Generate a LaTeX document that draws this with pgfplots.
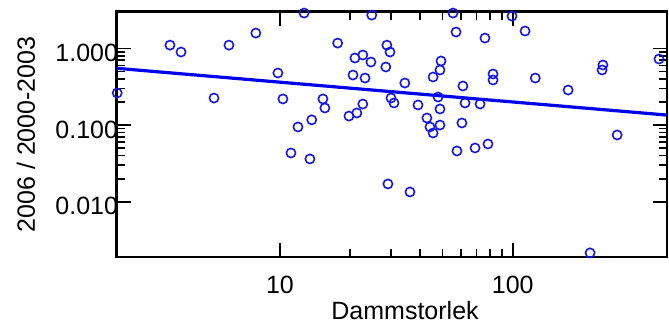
\documentclass[border=0pt]{standalone}
\usepackage{fontspec}
\setmainfont{Liberation Sans}
\usepackage{pgfplots}
\pgfplotsset{compat=1.18}
\begin{document}
\begin{tikzpicture}
\path[use as bounding box] (-116.7bp,-72bp) rectangle (552.3bp,257bp);
\begin{axis}[
  at={(0,0)}, anchor=south west,
  scale only axis, width=550.3bp, height=245.3bp,
  xmode=log, ymode=log,
  xmin=1.99, xmax=460, ymin=0.00191, ymax=3.0,
  axis line style={black, line width=2.5bp},
  tick align=inside,
  major tick length=14bp, minor tick length=8bp,
  every tick/.style={black, line width=1.6bp},
  xtick={10,100}, xticklabels={10,100},
  ytick={0.01,0.1,1}, yticklabels={0.010,0.100,1.000},
  tick label style={font=\fontsize{25bp}{30bp}\selectfont, inner sep=0pt},
  xticklabel style={anchor=base, yshift=-36.3bp},
  yticklabel style={anchor=base east, yshift=-13bp, xshift=1.5bp},
  label style={font=\fontsize{25bp}{30bp}\selectfont, inner sep=0pt},
  xlabel={Dammstorlek},
  xlabel style={at={(axis description cs:0.524,-0.2566)}, anchor=base},
  ylabel={2006 / 2000-2003},
  ylabel style={at={(axis description cs:-0.1485,0.5)}, anchor=base, rotate=0},
]
\addplot[only marks, mark=o, mark size=4.6bp, color={rgb,255:red,20;green,20;blue,240}, mark options={line width=1.6bp}] coordinates {
(2.0,0.262) (3.37,1.10) (3.76,0.895) (6.04,1.10) (5.21,0.225) (7.88,1.58)
(12.7,2.88) (9.8,0.477) (10.3,0.219) (13.7,0.117) (11.95,0.0945) (11.15,0.0433)
(13.45,0.0362) (15.3,0.219) (15.6,0.167) (17.7,1.17) (21.0,0.748) (22.7,0.818)
(24.6,0.663) (20.6,0.449) (23.2,0.410) (19.8,0.131) (21.4,0.1437) (22.7,0.188)
(24.8,2.71) (28.8,1.10) (29.7,0.895) (28.5,0.571) (34.4,0.353) (30.0,0.225)
(30.9,0.194) (39.2,0.183) (29.1,0.0171) (36.2,0.01345) (55.4,2.88) (57.1,1.63)
(76.0,1.36) (49.2,0.684) (48.7,0.522) (45.5,0.423) (82.3,0.463) (82.3,0.387)
(61.1,0.323) (47.8,0.232) (48.7,0.162) (62.4,0.194) (72.4,0.188) (42.8,0.1237)
(44.1,0.0945) (48.7,0.100) (45.5,0.0789) (60.5,0.1065) (57.6,0.046) (68.9,0.0503)
(78.3,0.0567) (99.3,2.63) (113,1.68) (125,0.410) (173,0.286) (244,0.606)
(242,0.522) (425,0.726) (281,0.0743) (215,0.00216)
};
\addplot[color={rgb,255:red,0;green,0;blue,235}, line width=3.2bp] coordinates {(1.99,0.549) (460,0.135)};
\end{axis}
\end{tikzpicture}
\end{document}
